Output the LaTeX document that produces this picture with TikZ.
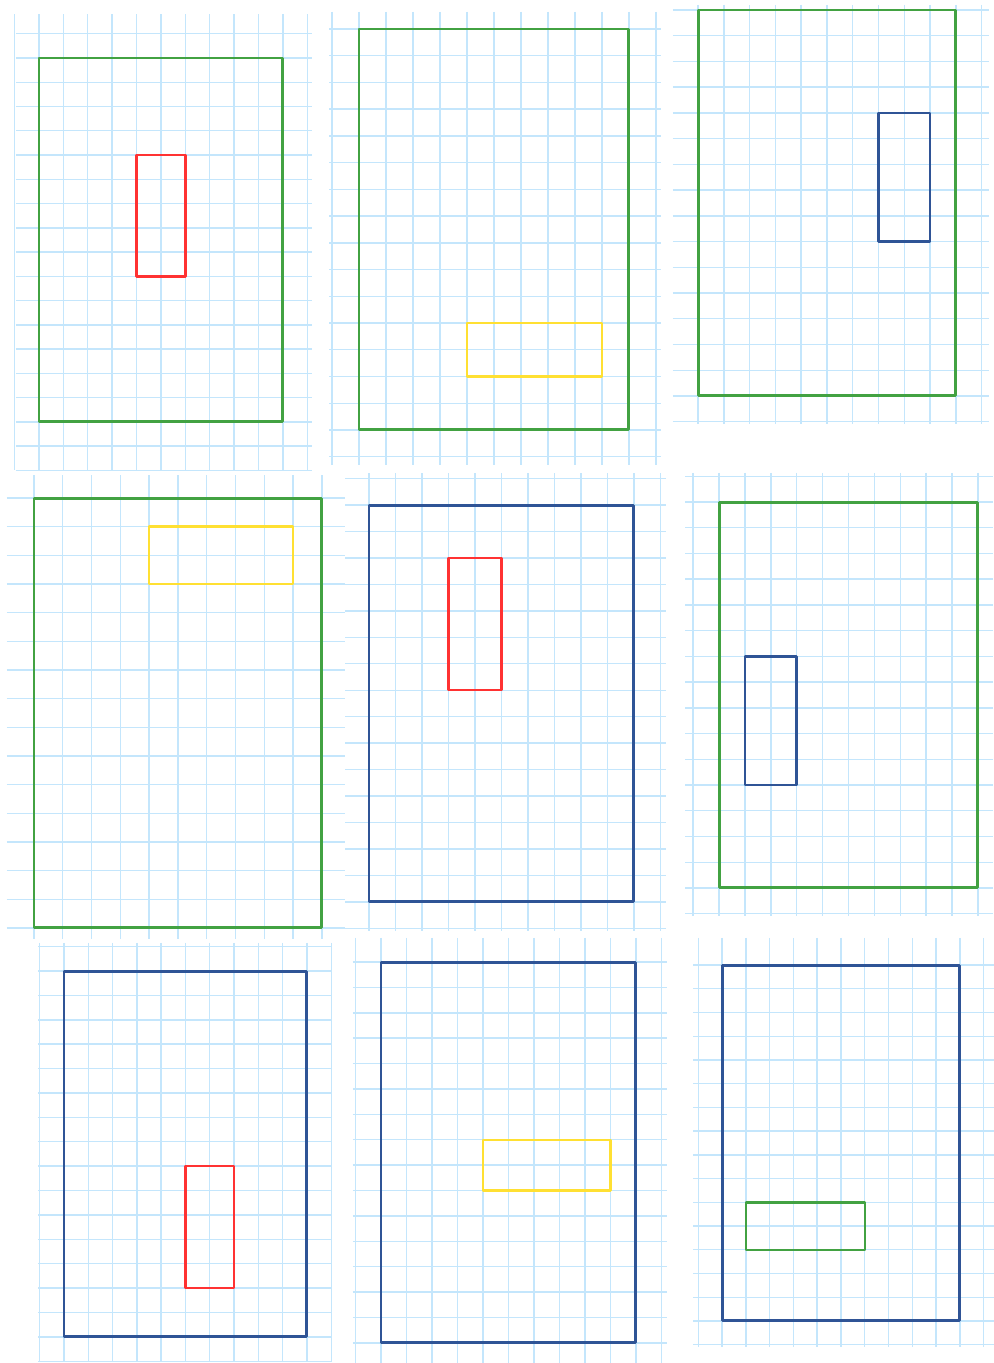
\documentclass[tikz,border=0pt]{standalone}
\usepackage{xcolor}
\usepackage{tikz}

\definecolor{gridblue}{RGB}{196,230,252}
\definecolor{framegreen}{RGB}{66,162,66}
\definecolor{frameblue}{RGB}{47,84,150}
\definecolor{piecered}{RGB}{255,50,50}
\definecolor{pieceyellow}{RGB}{255,224,50}

\tikzset{
  gridline/.style={draw=gridblue,line width=0.8pt},
  frame/.style={line width=1.7pt,line join=round},
  piece/.style={line width=1.4pt,line join=round}
}

\begin{document}
\begin{tikzpicture}[x=0.02cm,y=-0.02cm]
        \useasboundingbox (0,0) rectangle (994,1363);
        \fill[white] (0,0) rectangle (994,1363);
        % Top row, panel 1
        \begin{scope}[shift={(39,58)},x=0.488cm,y=-0.4853cm]
            \foreach \i in {-1,...,11} \draw[gridline] (\i,-1.8) -- (\i,17);
            \foreach \j in {-1,...,17} \draw[gridline] (-0.95,\j) -- (11.2,\j);
            \draw[frame,framegreen] (0,0) rectangle (10,15);
            \draw[piece,piecered] (4,4) rectangle (6,9);
        \end{scope}
        % Top row, panel 2
        \begin{scope}[shift={(359,29)},x=0.54cm,y=-0.5347cm]
            \foreach \i in {-1,...,11} \draw[gridline] (\i,-0.64) -- (\i,16.3);
            \foreach \j in {0,...,16} \draw[gridline] (-1.1,\j) -- (11.2,\j);
            \draw[frame,framegreen] (0,0) rectangle (10,15);
            \draw[piece,pieceyellow] (4,11) rectangle (9,13);
        \end{scope}
        % Top row, panel 3
        \begin{scope}[shift={(698,10)},x=0.516cm,y=-0.5147cm]
            \foreach \i in {0,...,11} \draw[gridline] (\i,-0.2) -- (\i,16.1);
            \foreach \j in {0,...,16} \draw[gridline] (-0.97,\j) -- (11.3,\j);
            \draw[frame,framegreen] (0,0) rectangle (10,15);
            \draw[piece,frameblue] (7,4) rectangle (9,9);
        \end{scope}
        % Middle row, panel 4
        \begin{scope}[shift={(34,498)},x=0.576cm,y=-0.5733cm]
            \foreach \i in {0,...,10} \draw[gridline] (\i,-0.8) -- (\i,15.4);
            \foreach \j in {0,...,15} \draw[gridline] (-0.94,\j) -- (10.8,\j);
            \draw[frame,framegreen] (0,0) rectangle (10,15);
            \draw[piece,pieceyellow] (4,1) rectangle (9,3);
        \end{scope}
        % Middle row, panel 5
        \begin{scope}[shift={(369,505)},x=0.53cm,y=-0.5293cm]
            \foreach \i in {0,...,11} \draw[gridline] (\i,-1.2) -- (\i,16.1);
            \foreach \j in {-1,...,16} \draw[gridline] (-0.9,\j) -- (11.2,\j);
            \draw[frame,frameblue] (0,0) rectangle (10,15);
            \draw[piece,piecered] (3,2) rectangle (5,7);
        \end{scope}
        % Middle row, panel 6
        \begin{scope}[shift={(719,502)},x=0.518cm,y=-0.5147cm]
            \foreach \i in {-1,...,10} \draw[gridline] (\i,-1.13) -- (\i,16.1);
            \foreach \j in {-1,...,16} \draw[gridline] (-1.3,\j) -- (10.6,\j);
            \draw[frame,framegreen] (0,0) rectangle (10,15);
            \draw[piece,frameblue] (1,6) rectangle (3,11);
        \end{scope}
        % Bottom row, panel 7
        \begin{scope}[shift={(64,971)},x=0.486cm,y=-0.488cm]
            \foreach \i in {-1,...,11} \draw[gridline] (\i,-1.15) -- (\i,16);
            \foreach \j in {-1,...,16} \draw[gridline] (-1.07,\j) -- (11.03,\j);
            \draw[frame,frameblue] (0,0) rectangle (10,15);
            \draw[piece,piecered] (5,8) rectangle (7,13);
        \end{scope}
        % Bottom row, panel 8
        \begin{scope}[shift={(381,962)},x=0.51cm,y=-0.508cm]
            \foreach \i in {-1,...,11} \draw[gridline] (\i,-0.95) -- (\i,15.8);
            \foreach \j in {0,...,15} \draw[gridline] (-1.1,\j) -- (11.2,\j);
            \draw[frame,frameblue] (0,0) rectangle (10,15);
            \draw[piece,pieceyellow] (4,7) rectangle (9,9);
        \end{scope}
        % Bottom row, panel 9
        \begin{scope}[shift={(722,965)},x=0.476cm,y=-0.4747cm]
            \foreach \i in {-1,...,11} \draw[gridline] (\i,-1.14) -- (\i,16.1);
            \foreach \j in {0,...,16} \draw[gridline] (-1.2,\j) -- (11.5,\j);
            \draw[frame,frameblue] (0,0) rectangle (10,15);
            \draw[piece,framegreen] (1,10) rectangle (6,12);
        \end{scope}
    \end{tikzpicture}
\end{document}
